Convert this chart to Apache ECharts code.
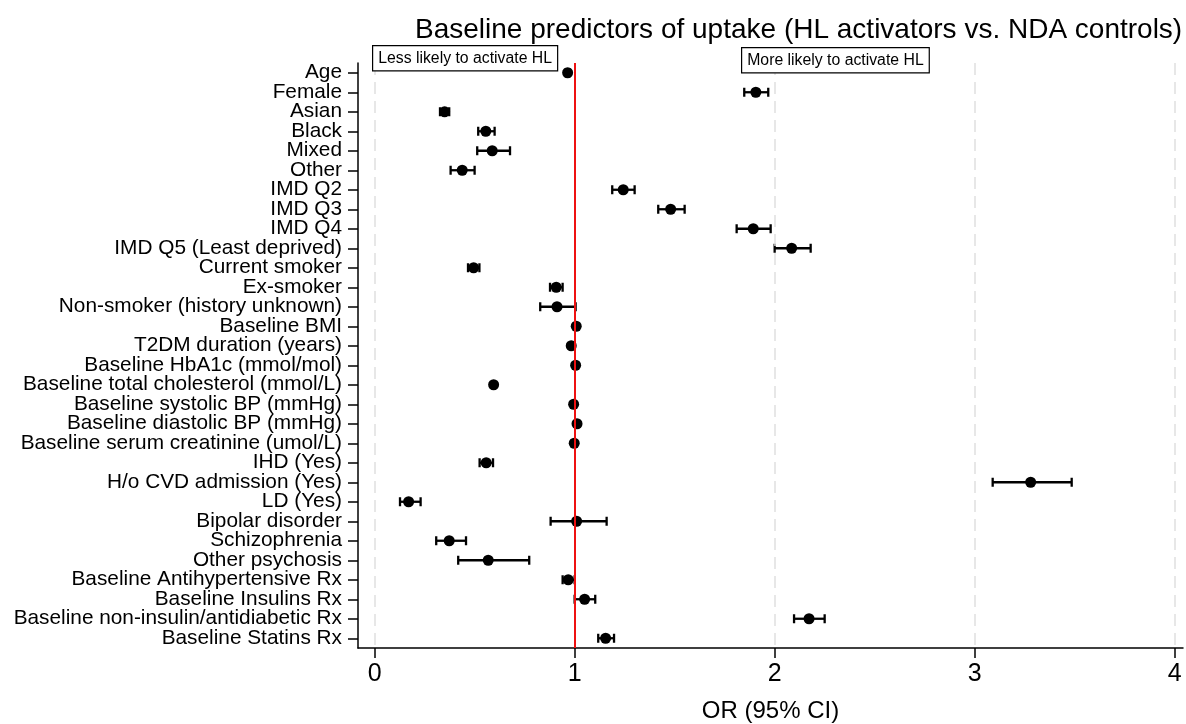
<!DOCTYPE html>
<html>
<head>
<meta charset="utf-8">
<title>Baseline predictors of uptake</title>
<script src="https://cdn.jsdelivr.net/npm/echarts@6/dist/echarts.min.js"></script>
<style>
  html, body { margin: 0; padding: 0; background: #fff; }
  #chart { width: 1186px; height: 724px; }
</style>
</head>
<body>
<div id="chart"></div>
<script>
// predictors, top to bottom
const categories = [
  'Age', 'Female', 'Asian', 'Black', 'Mixed', 'Other',
  'IMD Q2', 'IMD Q3', 'IMD Q4', 'IMD Q5 (Least deprived)',
  'Current smoker', 'Ex-smoker', 'Non-smoker (history unknown)',
  'Baseline BMI', 'T2DM duration (years)', 'Baseline HbA1c (mmol/mol)',
  'Baseline total cholesterol (mmol/L)', 'Baseline systolic BP (mmHg)',
  'Baseline diastolic BP (mmHg)', 'Baseline serum creatinine (umol/L)',
  'IHD (Yes)', 'H/o CVD admission (Yes)', 'LD (Yes)', 'Bipolar disorder',
  'Schizophrenia', 'Other psychosis', 'Baseline Antihypertensive Rx',
  'Baseline Insulins Rx', 'Baseline non-insulin/antidiabetic Rx',
  'Baseline Statins Rx'
];
// odds ratio and 95% CI
const orValues = [
  0.965, 1.906, 0.350, 0.556, 0.588, 0.438,
  1.243, 1.480, 1.893, 2.085,
  0.495, 0.908, 0.912,
  1.008, 0.983, 1.005, 0.595, 0.995, 1.012, 0.998,
  0.558, 3.280, 0.170, 1.010, 0.373, 0.568,
  0.968, 1.050, 2.172, 1.155
];
const ciLow = [
  0.955, 1.848, 0.327, 0.518, 0.513, 0.380,
  1.188, 1.418, 1.810, 2.000,
  0.467, 0.877, 0.828,
  1.005, 0.980, 1.003, 0.590, 0.993, 1.009, 0.996,
  0.525, 3.090, 0.127, 0.880, 0.308, 0.418,
  0.940, 1.000, 2.097, 1.118
];
const ciHigh = [
  0.975, 1.968, 0.373, 0.600, 0.677, 0.500,
  1.300, 1.550, 1.980, 2.180,
  0.524, 0.940, 1.005,
  1.011, 0.986, 1.007, 0.600, 0.997, 1.015, 1.000,
  0.592, 3.485, 0.230, 1.160, 0.457, 0.773,
  1.000, 1.103, 2.250, 1.197
];
const xTicks = [0, 1, 2, 3, 4];
const gridTicks = [0, 2, 3, 4];
const refLine = 1;

const FONT = '"Liberation Sans", Arial, Helvetica, sans-serif';

const pointData = orValues.map((v, i) => [v, i]);
const ciData = orValues.map((v, i) => [ciLow[i], ciHigh[i], i]);

const chart = echarts.init(document.getElementById('chart'), null, { renderer: 'canvas' });

chart.setOption({
  backgroundColor: '#fff',
  animation: false,
  title: {
    text: 'Baseline predictors of uptake (HL activators vs. NDA controls)',
    left: 410,
    top: 11,
    textStyle: { fontFamily: FONT, fontSize: 28, fontWeight: 'normal', color: '#000' }
  },
  grid: { left: 358, right: 3, top: 63, bottom: 76, containLabel: false, outerBoundsMode: 'none' },
  xAxis: {
    type: 'value',
    min: -0.083,
    max: 4.0415,
    name: 'OR (95% CI)',
    nameLocation: 'middle',
    nameGap: 51,
    nameTextStyle: { fontFamily: FONT, fontSize: 24, color: '#000' },
    axisLine: { show: true, onZero: false, lineStyle: { color: '#000', width: 1.5 } },
    axisTick: { show: true, length: 10, customValues: xTicks, lineStyle: { color: '#000', width: 1.5 } },
    axisLabel: { customValues: xTicks, fontFamily: FONT, fontSize: 25, color: '#000', margin: 14 },
    splitLine: { show: false }
  },
  yAxis: {
    type: 'category',
    inverse: true,
    data: categories,
    boundaryGap: true,
    axisLine: { show: true, onZero: false, lineStyle: { color: '#000', width: 1.5 } },
    axisTick: { show: true, alignWithLabel: true, length: 10, lineStyle: { color: '#000', width: 1.5 } },
    axisLabel: { interval: 0, fontFamily: FONT, fontSize: 20.8, color: '#000', margin: 16 },
    splitLine: { show: false }
  },
  graphic: [
    {
      type: 'text',
      left: 372,
      top: 45,
      style: {
        text: 'Less likely to activate HL',
        font: '15.8px ' + FONT,
        fill: '#000',
        backgroundColor: '#fff',
        borderColor: '#000',
        borderWidth: 1.2,
        padding: [4, 5, 4, 5]
      },
      z: 100
    },
    {
      type: 'text',
      left: 741,
      top: 47,
      style: {
        text: 'More likely to activate HL',
        font: '15.8px ' + FONT,
        fill: '#000',
        backgroundColor: '#fff',
        borderColor: '#000',
        borderWidth: 1.2,
        padding: [4, 5, 4, 5]
      },
      z: 100
    }
  ],
  series: [
    {
      // light dashed vertical grid lines
      type: 'scatter',
      data: [],
      z: 1,
      silent: true,
      markLine: {
        symbol: ['none', 'none'],
        silent: true,
        label: { show: false },
        lineStyle: { color: '#e0e0e0', width: 1.5, type: [12, 7] },
        data: gridTicks.map(v => ({ xAxis: v }))
      }
    },
    {
      // reference line at OR = 1
      type: 'scatter',
      data: [],
      z: 2,
      silent: true,
      markLine: {
        symbol: ['none', 'none'],
        silent: true,
        label: { show: false },
        lineStyle: { color: '#ee1111', width: 2, type: 'solid' },
        data: [{ xAxis: refLine }]
      }
    },
    {
      type: 'custom',
      z: 3,
      silent: true,
      data: ciData,
      encode: { x: [0, 1], y: 2 },
      renderItem: (params, api) => {
        const lo = api.coord([api.value(0), api.value(2)]);
        const hi = api.coord([api.value(1), api.value(2)]);
        const cap = 4.5;
        const style = { stroke: '#000', lineWidth: 2.3 };
        return {
          type: 'group',
          children: [
            { type: 'line', shape: { x1: lo[0], y1: lo[1], x2: hi[0], y2: hi[1] }, style },
            { type: 'line', shape: { x1: lo[0], y1: lo[1] - cap, x2: lo[0], y2: lo[1] + cap }, style },
            { type: 'line', shape: { x1: hi[0], y1: hi[1] - cap, x2: hi[0], y2: hi[1] + cap }, style }
          ]
        };
      }
    },
    {
      type: 'scatter',
      z: 4,
      data: pointData,
      symbol: 'circle',
      symbolSize: 11,
      itemStyle: { color: '#000', opacity: 1 },
      emphasis: { disabled: true }
    }
  ]
});
</script>
</body>
</html>
